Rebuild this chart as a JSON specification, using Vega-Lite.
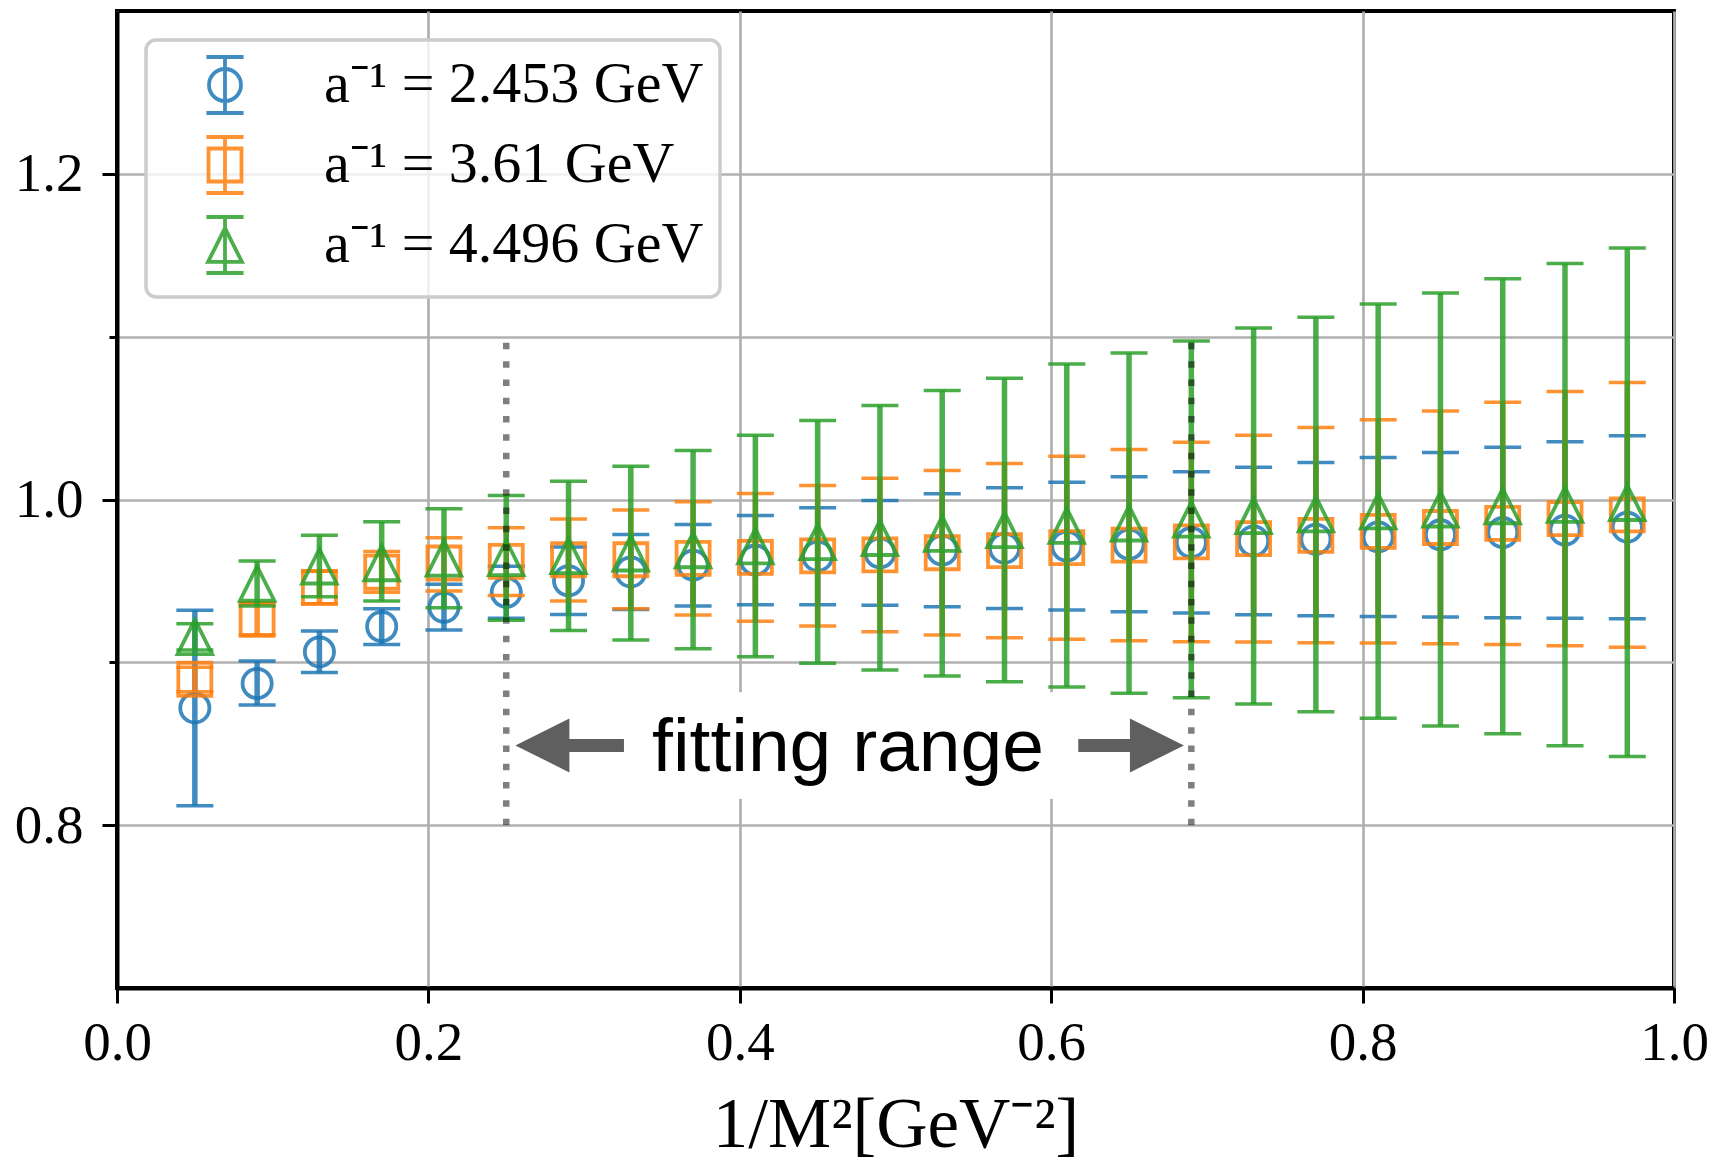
{
  "$schema": "https://vega.github.io/schema/vega-lite/v6.json",
  "width": 1557,
  "height": 977,
  "autosize": {"type": "none"},
  "padding": {"left": 117, "top": 11, "right": 42, "bottom": 172},
  "background": "white",
  "config": {
    "view": {"stroke": "black", "strokeWidth": 4},
    "axis": {
      "domainColor": "black", "domainWidth": 4,
      "tickColor": "black", "tickWidth": 3, "tickSize": 15,
      "labelFont": "Liberation Serif", "labelFontSize": 55, "labelColor": "black",
      "gridColor": "#b0b0b0", "gridWidth": 2.7, "gridOpacity": 1,
      "titleFont": "Liberation Serif", "titleFontSize": 71, "titleFontWeight": "normal", "titleColor": "black"
    },
    "legend": {
      "orient": "top-left", "offset": 29, "padding": 16,
      "strokeColor": "#cccccc", "strokeWidth": 3.5, "cornerRadius": 10,
      "fillColor": "rgba(255,255,255,0.8)",
      "labelFont": "Liberation Serif", "labelFontSize": 58, "labelColor": "black", "labelLimit": 0,
      "labelOffset": 70, "symbolOffset": 34, "rowPadding": 8,
      "symbolSize": 1024, "symbolOpacity": 0.85, "symbolStrokeWidth": 3.8
    }
  },
  "datasets": {
    "pts": [
      {"s": "a⁻¹ = 2.453 GeV", "x": 0.05, "y": 0.872, "lo": 0.812, "hi": 0.932},
      {"s": "a⁻¹ = 2.453 GeV", "x": 0.09, "y": 0.887, "lo": 0.8738, "hi": 0.9008},
      {"s": "a⁻¹ = 2.453 GeV", "x": 0.13, "y": 0.9064, "lo": 0.8937, "hi": 0.9192},
      {"s": "a⁻¹ = 2.453 GeV", "x": 0.17, "y": 0.922, "lo": 0.911, "hi": 0.9329},
      {"s": "a⁻¹ = 2.453 GeV", "x": 0.21, "y": 0.9338, "lo": 0.9198, "hi": 0.9479},
      {"s": "a⁻¹ = 2.453 GeV", "x": 0.25, "y": 0.943, "lo": 0.927, "hi": 0.959},
      {"s": "a⁻¹ = 2.453 GeV", "x": 0.29, "y": 0.9501, "lo": 0.9294, "hi": 0.9708},
      {"s": "a⁻¹ = 2.453 GeV", "x": 0.33, "y": 0.9555, "lo": 0.9325, "hi": 0.9785},
      {"s": "a⁻¹ = 2.453 GeV", "x": 0.37, "y": 0.9597, "lo": 0.9346, "hi": 0.9847},
      {"s": "a⁻¹ = 2.453 GeV", "x": 0.41, "y": 0.9628, "lo": 0.9354, "hi": 0.9902},
      {"s": "a⁻¹ = 2.453 GeV", "x": 0.45, "y": 0.9652, "lo": 0.9354, "hi": 0.9949},
      {"s": "a⁻¹ = 2.453 GeV", "x": 0.49, "y": 0.9672, "lo": 0.935, "hi": 0.9994},
      {"s": "a⁻¹ = 2.453 GeV", "x": 0.53, "y": 0.9689, "lo": 0.9342, "hi": 1.0035},
      {"s": "a⁻¹ = 2.453 GeV", "x": 0.57, "y": 0.9701, "lo": 0.9331, "hi": 1.0072},
      {"s": "a⁻¹ = 2.453 GeV", "x": 0.61, "y": 0.9714, "lo": 0.9321, "hi": 1.0106},
      {"s": "a⁻¹ = 2.453 GeV", "x": 0.65, "y": 0.9725, "lo": 0.9311, "hi": 1.0139},
      {"s": "a⁻¹ = 2.453 GeV", "x": 0.69, "y": 0.9736, "lo": 0.9303, "hi": 1.017},
      {"s": "a⁻¹ = 2.453 GeV", "x": 0.73, "y": 0.9745, "lo": 0.9292, "hi": 1.0198},
      {"s": "a⁻¹ = 2.453 GeV", "x": 0.77, "y": 0.9756, "lo": 0.9286, "hi": 1.0227},
      {"s": "a⁻¹ = 2.453 GeV", "x": 0.81, "y": 0.977, "lo": 0.9282, "hi": 1.0258},
      {"s": "a⁻¹ = 2.453 GeV", "x": 0.85, "y": 0.9783, "lo": 0.9278, "hi": 1.0288},
      {"s": "a⁻¹ = 2.453 GeV", "x": 0.89, "y": 0.9797, "lo": 0.9274, "hi": 1.0321},
      {"s": "a⁻¹ = 2.453 GeV", "x": 0.93, "y": 0.9812, "lo": 0.927, "hi": 1.0354},
      {"s": "a⁻¹ = 2.453 GeV", "x": 0.97, "y": 0.983, "lo": 0.9268, "hi": 1.0391},
      {"s": "a⁻¹ = 3.61 GeV", "x": 0.05, "y": 0.8896, "lo": 0.882, "hi": 0.897},
      {"s": "a⁻¹ = 3.61 GeV", "x": 0.09, "y": 0.9264, "lo": 0.917, "hi": 0.936},
      {"s": "a⁻¹ = 3.61 GeV", "x": 0.13, "y": 0.946, "lo": 0.936, "hi": 0.956},
      {"s": "a⁻¹ = 3.61 GeV", "x": 0.17, "y": 0.9554, "lo": 0.943, "hi": 0.968},
      {"s": "a⁻¹ = 3.61 GeV", "x": 0.21, "y": 0.961, "lo": 0.9438, "hi": 0.9765},
      {"s": "a⁻¹ = 3.61 GeV", "x": 0.25, "y": 0.962, "lo": 0.9411, "hi": 0.9826},
      {"s": "a⁻¹ = 3.61 GeV", "x": 0.29, "y": 0.963, "lo": 0.9376, "hi": 0.9881},
      {"s": "a⁻¹ = 3.61 GeV", "x": 0.33, "y": 0.963, "lo": 0.9329, "hi": 0.9935},
      {"s": "a⁻¹ = 3.61 GeV", "x": 0.37, "y": 0.9638, "lo": 0.929, "hi": 0.9986},
      {"s": "a⁻¹ = 3.61 GeV", "x": 0.41, "y": 0.9644, "lo": 0.9252, "hi": 1.0037},
      {"s": "a⁻¹ = 3.61 GeV", "x": 0.45, "y": 0.9654, "lo": 0.9223, "hi": 1.0086},
      {"s": "a⁻¹ = 3.61 GeV", "x": 0.49, "y": 0.966, "lo": 0.9188, "hi": 1.0131},
      {"s": "a⁻¹ = 3.61 GeV", "x": 0.53, "y": 0.9673, "lo": 0.9168, "hi": 1.0178},
      {"s": "a⁻¹ = 3.61 GeV", "x": 0.57, "y": 0.9686, "lo": 0.9151, "hi": 1.0221},
      {"s": "a⁻¹ = 3.61 GeV", "x": 0.61, "y": 0.9704, "lo": 0.9141, "hi": 1.0266},
      {"s": "a⁻¹ = 3.61 GeV", "x": 0.65, "y": 0.972, "lo": 0.9133, "hi": 1.0307},
      {"s": "a⁻¹ = 3.61 GeV", "x": 0.69, "y": 0.974, "lo": 0.9127, "hi": 1.0352},
      {"s": "a⁻¹ = 3.61 GeV", "x": 0.73, "y": 0.976, "lo": 0.9125, "hi": 1.0395},
      {"s": "a⁻¹ = 3.61 GeV", "x": 0.77, "y": 0.978, "lo": 0.9121, "hi": 1.0442},
      {"s": "a⁻¹ = 3.61 GeV", "x": 0.81, "y": 0.9804, "lo": 0.9118, "hi": 1.0489},
      {"s": "a⁻¹ = 3.61 GeV", "x": 0.85, "y": 0.9828, "lo": 0.9114, "hi": 1.0543},
      {"s": "a⁻¹ = 3.61 GeV", "x": 0.89, "y": 0.9853, "lo": 0.911, "hi": 1.0597},
      {"s": "a⁻¹ = 3.61 GeV", "x": 0.93, "y": 0.9883, "lo": 0.9102, "hi": 1.0664},
      {"s": "a⁻¹ = 3.61 GeV", "x": 0.97, "y": 0.9905, "lo": 0.9092, "hi": 1.0718},
      {"s": "a⁻¹ = 4.496 GeV", "x": 0.05, "y": 0.9156, "lo": 0.9075, "hi": 0.9237},
      {"s": "a⁻¹ = 4.496 GeV", "x": 0.09, "y": 0.9484, "lo": 0.9346, "hi": 0.9622},
      {"s": "a⁻¹ = 4.496 GeV", "x": 0.13, "y": 0.959, "lo": 0.9403, "hi": 0.978},
      {"s": "a⁻¹ = 4.496 GeV", "x": 0.17, "y": 0.961, "lo": 0.9376, "hi": 0.9863},
      {"s": "a⁻¹ = 4.496 GeV", "x": 0.21, "y": 0.9639, "lo": 0.9335, "hi": 0.9943},
      {"s": "a⁻¹ = 4.496 GeV", "x": 0.25, "y": 0.9641, "lo": 0.9258, "hi": 1.0025},
      {"s": "a⁻¹ = 4.496 GeV", "x": 0.29, "y": 0.9654, "lo": 0.9196, "hi": 1.0112},
      {"s": "a⁻¹ = 4.496 GeV", "x": 0.33, "y": 0.967, "lo": 0.9137, "hi": 1.0204},
      {"s": "a⁻¹ = 4.496 GeV", "x": 0.37, "y": 0.969, "lo": 0.9084, "hi": 1.0301},
      {"s": "a⁻¹ = 4.496 GeV", "x": 0.41, "y": 0.9714, "lo": 0.9035, "hi": 1.0394},
      {"s": "a⁻¹ = 4.496 GeV", "x": 0.45, "y": 0.974, "lo": 0.8994, "hi": 1.0485},
      {"s": "a⁻¹ = 4.496 GeV", "x": 0.49, "y": 0.9765, "lo": 0.8953, "hi": 1.0577},
      {"s": "a⁻¹ = 4.496 GeV", "x": 0.53, "y": 0.979, "lo": 0.8916, "hi": 1.067},
      {"s": "a⁻¹ = 4.496 GeV", "x": 0.57, "y": 0.9813, "lo": 0.8881, "hi": 1.0744},
      {"s": "a⁻¹ = 4.496 GeV", "x": 0.61, "y": 0.984, "lo": 0.8849, "hi": 1.0832},
      {"s": "a⁻¹ = 4.496 GeV", "x": 0.65, "y": 0.9854, "lo": 0.881, "hi": 1.0899},
      {"s": "a⁻¹ = 4.496 GeV", "x": 0.69, "y": 0.9878, "lo": 0.8783, "hi": 1.0973},
      {"s": "a⁻¹ = 4.496 GeV", "x": 0.73, "y": 0.99, "lo": 0.8744, "hi": 1.1053},
      {"s": "a⁻¹ = 4.496 GeV", "x": 0.77, "y": 0.991, "lo": 0.8697, "hi": 1.112},
      {"s": "a⁻¹ = 4.496 GeV", "x": 0.81, "y": 0.9928, "lo": 0.8656, "hi": 1.12},
      {"s": "a⁻¹ = 4.496 GeV", "x": 0.85, "y": 0.994, "lo": 0.8609, "hi": 1.1268},
      {"s": "a⁻¹ = 4.496 GeV", "x": 0.89, "y": 0.996, "lo": 0.8562, "hi": 1.1356},
      {"s": "a⁻¹ = 4.496 GeV", "x": 0.93, "y": 0.9969, "lo": 0.8488, "hi": 1.1449},
      {"s": "a⁻¹ = 4.496 GeV", "x": 0.97, "y": 0.998, "lo": 0.8421, "hi": 1.1544}
    ]
  },
  "data": {"name": "pts"},
  "encoding": {
    "x": {
      "field": "x", "type": "quantitative",
      "scale": {"domain": [0, 1], "nice": false, "zero": false},
      "axis": {
        "title": "1/M²[GeV⁻²]", "titlePadding": 20,
        "values": [0, 0.2, 0.4, 0.6, 0.8, 1.0], "format": ".1f",
        "labelPadding": 13, "labelFlush": false, "grid": true
      }
    }
  },
  "layer": [
    {
      "data": {"values": [{"xa": 0.257, "xb": 0.683, "ya": 0.816, "yb": 0.8816}]},
      "mark": {"type": "rect", "color": "white", "opacity": 1},
      "encoding": {
        "x": {"field": "xa", "type": "quantitative"},
        "x2": {"field": "xb"},
        "y": {"field": "ya", "type": "quantitative", "title": null},
        "y2": {"field": "yb"}
      }
    },
    {
      "transform": [{"filter": "datum.s == 'a⁻¹ = 2.453 GeV'"}],
      "layer": [
        {"mark": {"type": "rule", "strokeWidth": 5.5, "color": "#1f77b4", "opacity": 0.85},
         "encoding": {"y": {"field": "lo", "type": "quantitative", "title": null, "scale": {"domain": [0.7, 1.3], "nice": false, "zero": false},
           "axis": {"title": null, "values": [0.8, 0.9, 1.0, 1.1, 1.2], "labelExpr": "datum.value == 0.9 || datum.value == 1.1 ? '' : format(datum.value, '.1f')",
             "tickSize": {"condition": {"test": "datum.value == 0.9 || datum.value == 1.1", "value": 8}, "value": 15}, "labelPadding": 19, "grid": true}},
           "y2": {"field": "hi"}}},
        {"mark": {"type": "tick", "orient": "horizontal", "size": 37, "thickness": 3.5, "color": "#1f77b4", "opacity": 0.85},
         "encoding": {"y": {"field": "lo", "type": "quantitative", "title": null}}},
        {"mark": {"type": "tick", "orient": "horizontal", "size": 37, "thickness": 3.5, "color": "#1f77b4", "opacity": 0.85},
         "encoding": {"y": {"field": "hi", "type": "quantitative", "title": null}}},
        {"mark": {"type": "point", "shape": "circle", "size": 850, "filled": false, "strokeWidth": 3.8, "color": "#1f77b4", "opacity": 0.85},
         "encoding": {"y": {"field": "y", "type": "quantitative", "title": null}}}
      ]
    },
    {
      "transform": [{"filter": "datum.s == 'a⁻¹ = 3.61 GeV'"}],
      "layer": [
        {"mark": {"type": "rule", "strokeWidth": 5.5, "color": "#ff7f0e", "opacity": 0.85},
         "encoding": {"y": {"field": "lo", "type": "quantitative", "title": null}, "y2": {"field": "hi"}}},
        {"mark": {"type": "tick", "orient": "horizontal", "size": 37, "thickness": 3.5, "color": "#ff7f0e", "opacity": 0.85},
         "encoding": {"y": {"field": "lo", "type": "quantitative", "title": null}}},
        {"mark": {"type": "tick", "orient": "horizontal", "size": 37, "thickness": 3.5, "color": "#ff7f0e", "opacity": 0.85},
         "encoding": {"y": {"field": "hi", "type": "quantitative", "title": null}}},
        {"mark": {"type": "point", "shape": "square", "size": 1089, "filled": false, "strokeWidth": 3.8, "color": "#ff7f0e", "opacity": 0.85},
         "encoding": {"y": {"field": "y", "type": "quantitative", "title": null}}}
      ]
    },
    {
      "transform": [{"filter": "datum.s == 'a⁻¹ = 4.496 GeV'"}],
      "layer": [
        {"mark": {"type": "rule", "strokeWidth": 5.5, "color": "#2ca02c", "opacity": 0.85},
         "encoding": {"y": {"field": "lo", "type": "quantitative", "title": null}, "y2": {"field": "hi"}}},
        {"mark": {"type": "tick", "orient": "horizontal", "size": 37, "thickness": 3.5, "color": "#2ca02c", "opacity": 0.85},
         "encoding": {"y": {"field": "lo", "type": "quantitative", "title": null}}},
        {"mark": {"type": "tick", "orient": "horizontal", "size": 37, "thickness": 3.5, "color": "#2ca02c", "opacity": 0.85},
         "encoding": {"y": {"field": "hi", "type": "quantitative", "title": null}}},
        {"mark": {"type": "point", "shape": "M0,-1L1,1L-1,1Z", "size": 1190, "filled": false, "strokeWidth": 3.8, "color": "#2ca02c", "opacity": 0.85},
         "encoding": {"y": {"field": "y", "type": "quantitative", "title": null}}}
      ]
    },
    {
      "data": {"values": [{"fit": 0.25, "ya": 0.8, "yb": 1.1}, {"fit": 0.69, "ya": 0.8, "yb": 1.1}]},
      "mark": {"type": "rule", "color": "black", "opacity": 0.5, "strokeWidth": 6.5, "strokeDash": [6.5, 11.8], "strokeCap": "butt"},
      "encoding": {
        "x": {"field": "fit", "type": "quantitative"},
        "y": {"field": "ya", "type": "quantitative", "title": null},
        "y2": {"field": "yb"}
      }
    },
    {
      "data": {"values": [{"a": 0.286, "b": 0.3256, "ya": 0.849}, {"a": 0.6174, "b": 0.655, "ya": 0.849}]},
      "mark": {"type": "rule", "color": "#5f5f5f", "strokeWidth": 13, "strokeCap": "butt"},
      "encoding": {
        "x": {"field": "a", "type": "quantitative"},
        "x2": {"field": "b"},
        "y": {"field": "ya", "type": "quantitative", "title": null}
      }
    },
    {
      "data": {"values": [{"xa": 0.2732, "ya": 0.849}]},
      "mark": {"type": "point", "shape": "M-1,0L1,-1L1,1Z", "size": 2916, "filled": true, "color": "#5f5f5f", "opacity": 1, "strokeWidth": 0},
      "encoding": {
        "x": {"field": "xa", "type": "quantitative"},
        "y": {"field": "ya", "type": "quantitative", "title": null}
      }
    },
    {
      "data": {"values": [{"xa": 0.6679, "ya": 0.849}]},
      "mark": {"type": "point", "shape": "M1,0L-1,-1L-1,1Z", "size": 2916, "filled": true, "color": "#5f5f5f", "opacity": 1, "strokeWidth": 0},
      "encoding": {
        "x": {"field": "xa", "type": "quantitative"},
        "y": {"field": "ya", "type": "quantitative", "title": null}
      }
    },
    {
      "data": {"values": [{"xa": 0.4695, "ya": 0.8333, "label": "fitting range"}]},
      "mark": {"type": "text", "font": "Liberation Sans", "fontSize": 75, "align": "center", "baseline": "alphabetic", "color": "black"},
      "encoding": {
        "x": {"field": "xa", "type": "quantitative"},
        "y": {"field": "ya", "type": "quantitative", "title": null},
        "text": {"field": "label"}
      }
    },
    {
      "mark": {"type": "point", "filled": false, "opacity": 0, "strokeWidth": 3.8},
      "encoding": {
        "y": {"field": "y", "type": "quantitative", "title": null},
        "shape": {
          "field": "s", "type": "nominal", "title": null,
          "scale": {
            "domain": ["a⁻¹ = 2.453 GeV", "a⁻¹ = 3.61 GeV", "a⁻¹ = 4.496 GeV"],
            "range": [
              "M1,0A1,1,0,1,1,-1,0A1,1,0,1,1,1,0ZM0,-1.75L0,1.75M-1.16,-1.75L1.16,-1.75M-1.16,1.75L1.16,1.75",
              "M-1.03,-1.03L1.03,-1.03L1.03,1.03L-1.03,1.03ZM0,-1.75L0,1.75M-1.16,-1.75L1.16,-1.75M-1.16,1.75L1.16,1.75",
              "M0,-1.06L1.06,1.06L-1.06,1.06ZM0,-1.75L0,1.75M-1.16,-1.75L1.16,-1.75M-1.16,1.75L1.16,1.75"
            ]
          }
        },
        "color": {
          "field": "s", "type": "nominal", "title": null,
          "scale": {
            "domain": ["a⁻¹ = 2.453 GeV", "a⁻¹ = 3.61 GeV", "a⁻¹ = 4.496 GeV"],
            "range": ["#1f77b4", "#ff7f0e", "#2ca02c"]
          }
        }
      }
    }
  ]
}
